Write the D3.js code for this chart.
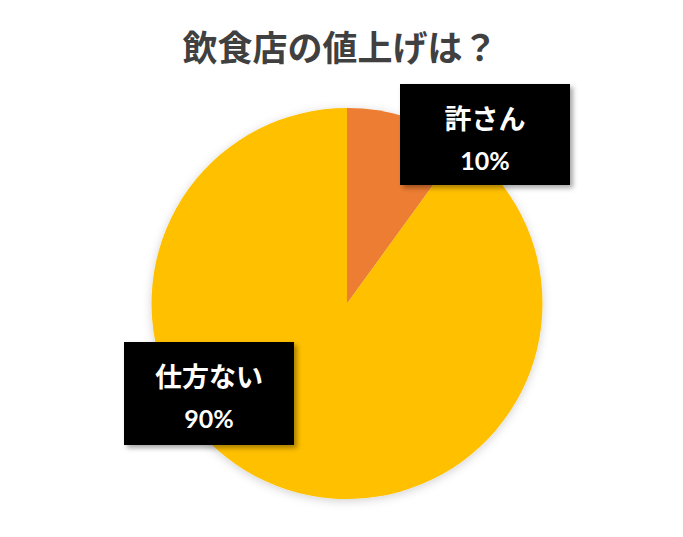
<!DOCTYPE html>
<html><head><meta charset="utf-8">
<script src="https://cdn.jsdelivr.net/npm/d3@7"></script>
<style>body{margin:0;background:#fff}svg{display:block}</style>
</head><body>
<script>
const title = "飲食店の値上げは？";
const categories = ["許さん", "仕方ない"];
const values = [10, 90];
const colors = ["#ED7D31", "#FFC000"];

const W = 683, H = 537;
const svg = d3.select("body").append("svg").attr("width", W).attr("height", H);
const defs = svg.append("defs");
const f = defs.append("filter").attr("id","glow").attr("x","-20%").attr("y","-20%").attr("width","140%").attr("height","140%");
f.append("feDropShadow").attr("dx",0).attr("dy",2).attr("stdDeviation",5).attr("flood-color","#000").attr("flood-opacity",0.18);
const f2 = defs.append("filter").attr("id","boxsh").attr("x","-20%").attr("y","-20%").attr("width","140%").attr("height","140%");
f2.append("feDropShadow").attr("dx",3).attr("dy",3).attr("stdDeviation",2.5).attr("flood-color","#000").attr("flood-opacity",0.35);

svg.append("text").attr("x", 340).attr("y", 61).attr("text-anchor","middle")
  .attr("font-family","'Noto Sans CJK JP', sans-serif").attr("font-weight","bold")
  .attr("font-size", 35).attr("fill","#404040").text(title);

const cx = 347, cy = 303.5, r = 195.5;
const pie = d3.pie().sort(null).value(d => d)(values);
const arc = d3.arc().innerRadius(0).outerRadius(r);
const g = svg.append("g").attr("transform", `translate(${cx},${cy})`).attr("filter","url(#glow)");
g.selectAll("path").data(pie).join("path").attr("d", arc).attr("fill", (d,i) => colors[i]);

// label boxes
const boxes = [
  {x0: 400, y0: 84, x1: 570, y1: 185},
  {x0: 124, y0: 342, x1: 294, y1: 445}
];
const lg = svg.append("g");
boxes.forEach((b, i) => {
  const bg = lg.append("g");
  bg.append("rect").attr("x", b.x0).attr("y", b.y0).attr("width", b.x1-b.x0).attr("height", b.y1-b.y0)
    .attr("fill","#000").attr("filter","url(#boxsh)");
  const mx = (b.x0+b.x1)/2;
  bg.append("text").attr("x", mx).attr("y", b.y0 + 45).attr("text-anchor","middle")
    .attr("font-family","'Noto Sans CJK JP', sans-serif").attr("font-weight","bold")
    .attr("font-size", 27).attr("fill","#fff").text(categories[i]);
  const pct = Math.round(values[i] / d3.sum(values) * 100) + "%";
  bg.append("text").attr("x", mx).attr("y", b.y0 + 86).attr("text-anchor","middle")
    .attr("font-family","Lato, 'Liberation Sans', sans-serif").attr("font-weight","bold")
    .attr("font-size", 25).attr("fill","#fff").text(pct);
});
</script>
</body></html>
